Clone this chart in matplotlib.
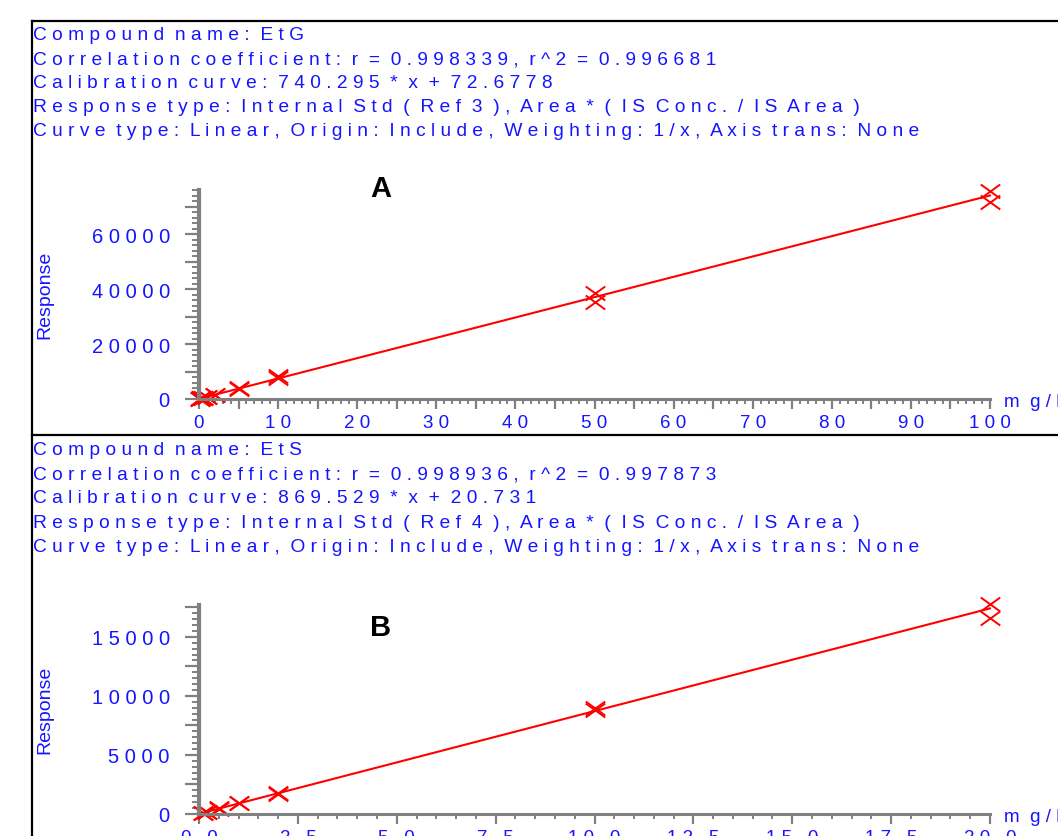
import numpy as np
import matplotlib
matplotlib.use("Agg")
import matplotlib.pyplot as plt
from matplotlib.path import Path
from matplotlib.lines import Line2D
from matplotlib.ticker import MultipleLocator, FuncFormatter

plt.rcParams['font.family'] = ['Liberation Sans', 'DejaVu Sans']

# ---------------- data ----------------
header_a = [
    "Compound name: EtG",
    "Correlation coefficient: r = 0.998339, r^2 = 0.996681",
    "Calibration curve: 740.295 * x + 72.6778",
    "Response type: Internal Std ( Ref 3 ), Area * ( IS Conc. / IS Area )",
    "Curve type: Linear, Origin: Include, Weighting: 1/x, Axis trans: None",
]
header_b = [
    "Compound name: EtS",
    "Correlation coefficient: r = 0.998936, r^2 = 0.997873",
    "Calibration curve: 869.529 * x + 20.731",
    "Response type: Internal Std ( Ref 4 ), Area * ( IS Conc. / IS Area )",
    "Curve type: Linear, Origin: Include, Weighting: 1/x, Axis trans: None",
]
slope_a, intercept_a = 740.295, 72.6778
slope_b, intercept_b = 869.529, 20.731

conc_a = [0.1, 0.1, 0.2, 0.2, 0.5, 0.5, 1, 1, 2, 2, 5, 5, 10, 10, 50, 50, 100, 100]
resp_a = [130, 120, 220, 200, 430, 400, 800, 780, 1550, 1450, 3700, 3850,
          7700, 8200, 38500, 35200, 75700, 71800]
conc_b = [0.1, 0.1, 0.2, 0.2, 0.5, 0.5, 1, 1, 2, 2, 10, 10, 20, 20]
resp_b = [100, 95, 190, 180, 480, 450, 950, 900, 1780, 1720, 8950, 8850,
          17750, 16600]

xmax_a, ymax_a = 100, 76100
xmax_b, ymax_b = 20, 17700

BLUE = "#1414ff"
GRAY = "#808080"
RED = "#ff0000"

W, H = 1058, 837
fig = plt.figure(figsize=(W / 100, H / 100), dpi=100)


def fx(px):
    return px / W


def fy(py):
    return 1 - py / H


def spaced(s):
    return "  ".join(" ".join(w) for w in s.split(" "))


xmark = Path([(-1, -0.72), (1, 0.72), (-1, 0.72), (1, -0.72)],
             [Path.MOVETO, Path.LINETO, Path.MOVETO, Path.LINETO])

# frame lines
for (x0, y0, x1, y1) in [(32, 22, W, 22), (32, 22, 32, H), (32, 436, W, 436)]:
    fig.add_artist(Line2D([fx(x0), fx(x1)], [fy(y0), fy(y1)],
                          transform=fig.transFigure, color="black", lw=1.6))


def panel(header, top_y, ax_box, conc, resp, slope, intercept, xmax, ymax,
          xmaj, xmin, ymaj, ymin, ylab_every, xfmt, letter, letter_y,
          resp_y, unit_y):
    for i, line in enumerate(header):
        fig.text(fx(33), fy(top_y + 24.0 * i), spaced(line), color=BLUE,
                 fontsize=13.75, ha="left", va="center")
    l, r, b, t = ax_box
    ax = fig.add_axes([fx(l), fy(b), fx(r) - fx(l), fy(t) - fy(b)])
    ax.set_xlim(0, xmax)
    ax.set_ylim(0, ymax)
    xs = np.array([0, xmax])
    ax.plot(xs, slope * xs + intercept, color=RED, lw=1.5, clip_on=False)
    ax.plot(conc, resp, linestyle="none", marker=xmark, markersize=14,
            markeredgewidth=1.4, color=RED, clip_on=False)
    for s in ["top", "right"]:
        ax.spines[s].set_visible(False)
    for s in ["left", "bottom"]:
        ax.spines[s].set_color(GRAY)
    ax.spines["left"].set_linewidth(3.0)
    ax.spines["bottom"].set_linewidth(2.2)
    ax.xaxis.set_major_locator(MultipleLocator(xmaj))
    ax.xaxis.set_minor_locator(MultipleLocator(xmin))
    ax.yaxis.set_major_locator(MultipleLocator(ymaj))
    ax.yaxis.set_minor_locator(MultipleLocator(ymin))
    ax.xaxis.set_major_formatter(FuncFormatter(xfmt))
    ax.yaxis.set_major_formatter(FuncFormatter(
        lambda v, p: " ".join(str(int(round(v))))
        if abs(v / ylab_every - round(v / ylab_every)) < 1e-6 else ""))
    ax.tick_params(axis="x", which="major", length=7, width=1.6, color=GRAY,
                   labelcolor=BLUE, labelsize=13.5, pad=4)
    ax.tick_params(axis="x", which="minor", length=3.5, width=1.4, color=GRAY)
    ax.tick_params(axis="y", which="major", length=10, width=1.6, color=GRAY,
                   labelcolor=BLUE, labelsize=14.5, pad=11)
    ax.tick_params(axis="y", which="minor", length=5, width=1.4, color=GRAY)
    ax.patch.set_visible(False)
    fig.text(fx(381), fy(letter_y), letter, fontsize=21, fontweight="bold",
             color="black", ha="center", va="center")
    fig.text(fx(45), fy(resp_y), "Response", rotation=90, color=BLUE,
             fontsize=14, ha="center", va="center")
    fig.text(fx(1004), fy(unit_y), "m  g / l", color=BLUE, fontsize=13.5,
             ha="left", va="center")
    return ax


def fmt_a(v, p):
    if abs(v / 10 - round(v / 10)) < 1e-6:
        return " ".join(str(int(round(v))))
    return ""


def fmt_b(v, p):
    return " ".join(f"{v:.1f}")


panel(header_a, 36, (199, 990, 400, 191), conc_a, resp_a, slope_a,
      intercept_a, xmax_a, ymax_a, 5, 1, 10000, 2000, 20000, fmt_a,
      "A", 189, 295, 403)
panel(header_b, 451, (199, 990, 815, 606), conc_b, resp_b, slope_b,
      intercept_b, xmax_b, ymax_b, 2.5, 0.5, 2500, 500, 5000, fmt_b,
      "B", 628, 710, 818)

fig.savefig("out.png", dpi=100)
